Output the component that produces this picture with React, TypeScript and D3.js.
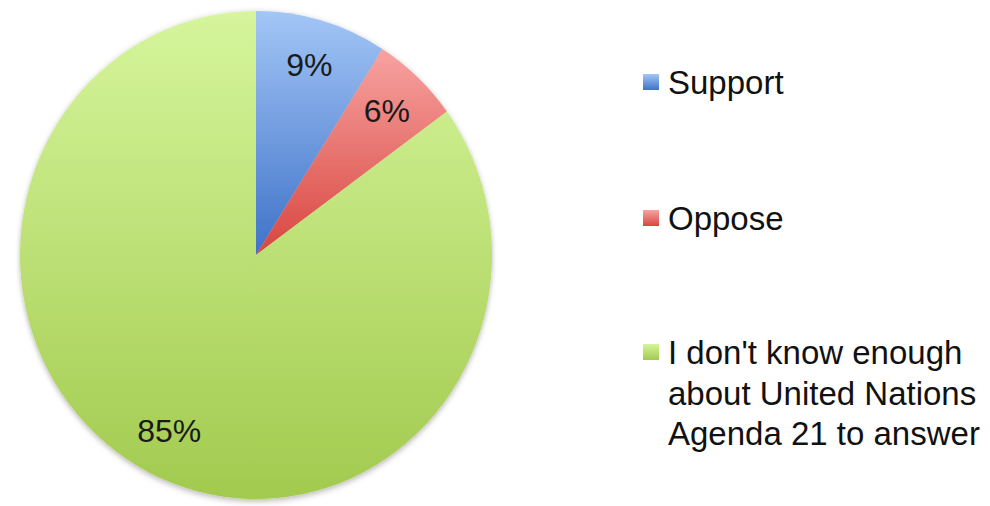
import React from "react";
import * as d3 from "d3";

const categories = ["Support", "Oppose", "I don't know enough about United Nations Agenda 21 to answer"];
const values = [9, 6, 85];
const labels = ["9%", "6%", "85%"];
const legendLines = [["Support"], ["Oppose"], ["I don't know enough", "about United Nations", "Agenda 21 to answer"]];
const colorTop = ["#a3c6f6", "#f7a3a1", "#d6f59c"];
const colorBottom = ["#3f72c8", "#d8463f", "#a2ca4e"];

const W = 990;
const H = 506;
const CX = 256;
const CY = 255;
const R = 244;
const SX = 236 / 244;

export default function App() {
  const pie = d3.pie<number>().sort(null).value((d) => d);
  const arcs = pie(values);
  const arc = d3.arc<d3.PieArcDatum<number>>().innerRadius(0).outerRadius(R);
  const labelArc = d3.arc<d3.PieArcDatum<number>>().innerRadius(R * 0.81).outerRadius(R * 0.81);
  const legendY = [82, 218, 352];
  const lineH = 40.5;
  return (
    <svg width={W} height={H} style={{ position: "absolute", left: 0, top: 0, background: "#fff" }}
      fontFamily="'Liberation Sans', Arial, sans-serif">
      <defs>
        {values.map((_, i) => (
          <linearGradient key={i} id={`g${i}`} x1="0" y1="0" x2="0" y2="1">
            <stop offset="0%" stopColor={colorTop[i]} />
            <stop offset="100%" stopColor={colorBottom[i]} />
          </linearGradient>
        ))}
        <filter id="shadow" x="-10%" y="-10%" width="120%" height="120%">
          <feDropShadow dx="0" dy="2" stdDeviation="3" floodColor="#000" floodOpacity="0.3" />
        </filter>
      </defs>
      <g transform={`translate(${CX},${CY}) scale(${SX},1)`}>
        <g filter="url(#shadow)">
          {arcs.map((a, i) => (
            <path key={i} d={arc(a) ?? ""} fill={`url(#g${i})`} />
          ))}
        </g>
      </g>
      {arcs.map((a, i) => {
        const [lx, ly] = labelArc.centroid(a);
        return (
          <text key={i} x={CX + lx * SX} y={CY + ly} textAnchor="middle" dominantBaseline="central"
            fontSize={32} fill="#1a1a1a">
            {labels[i]}
          </text>
        );
      })}
      {categories.map((c, i) => (
        <g key={c}>
          <rect x={643} y={legendY[i] - 8} width={16} height={16} fill={`url(#g${i})`} />
          {legendLines[i].map((t, j) => (
            <text key={j} x={668} y={legendY[i] + 12 + j * lineH} fontSize={33} fill="#111">
              {t}
            </text>
          ))}
        </g>
      ))}
    </svg>
  );
}
